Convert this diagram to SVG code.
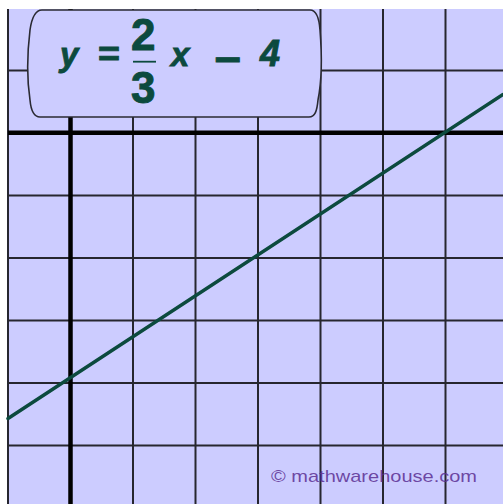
<svg xmlns="http://www.w3.org/2000/svg" width="503" height="504" viewBox="0 0 503 504">
  <style>
    .grid line { stroke: #26262f; stroke-width: 2; }
    .axis { stroke: #000; stroke-width: 4.5; }
    .graph { stroke: #0c4a3e; stroke-width: 3.5; fill: none; stroke-linecap: round; }
    .box { fill: #ccccff; stroke: #2a2a33; stroke-width: 1.6; }
    .eq { font-family: "Liberation Sans", Arial, sans-serif; font-weight: bold; fill: #0c4a3e; stroke: #0c4a3e; stroke-width: 0.9; }
    .it { font-style: italic; }
    .wm { font-family: "Liberation Sans", Arial, sans-serif; font-size: 17px; fill: #5b2f93; fill-opacity: 0.85; }
  </style>
  <rect x="0" y="0" width="503" height="504" fill="#ffffff"/>
  <rect x="8" y="9" width="495" height="495" fill="#ccccff"/>
  <g id="grid" class="grid">
    <line x1="8" y1="9" x2="8" y2="504"/>
    <line x1="133" y1="9" x2="133" y2="504"/>
    <line x1="195.5" y1="9" x2="195.5" y2="504"/>
    <line x1="258" y1="9" x2="258" y2="504"/>
    <line x1="320.5" y1="9" x2="320.5" y2="504"/>
    <line x1="383" y1="9" x2="383" y2="504"/>
    <line x1="445.5" y1="9" x2="445.5" y2="504"/>
    <line x1="8" y1="70.5" x2="503" y2="70.5"/>
    <line x1="8" y1="195.5" x2="503" y2="195.5"/>
    <line x1="8" y1="258" x2="503" y2="258"/>
    <line x1="8" y1="320.5" x2="503" y2="320.5"/>
    <line x1="8" y1="383" x2="503" y2="383"/>
    <line x1="8" y1="445.5" x2="503" y2="445.5"/>
  </g>
  <g id="axes">
    <line class="axis" x1="70.5" y1="9" x2="70.5" y2="504"/>
    <line class="axis" x1="8" y1="132.7" x2="503" y2="132.7"/>
  </g>
  <g id="connectors">
    <line class="graph" x1="8" y1="418.5" x2="503" y2="94.5"/>
  </g>
  <g id="equation-box">
    <path class="box" d="M 42 10 H 310 C 316 10, 319 16, 320 30 C 322 55, 322 80, 318 100 C 317 111, 315 117, 309 117 H 40 C 34 117, 31 111, 30 100 C 27 80, 27 55, 30 30 C 32 16, 36 10, 42 10 Z"/>
    <text class="eq it" x="60" y="66" font-size="33">y</text>
    <text class="eq" x="98" y="66" font-size="35" textLength="22" lengthAdjust="spacingAndGlyphs">=</text>
    <text class="eq" x="131" y="50" font-size="44">2</text>
    <line x1="133" y1="61.7" x2="156" y2="61.7" stroke="#0c4a3e" stroke-width="1.8"/>
    <text class="eq" x="131" y="103" font-size="44">3</text>
    <text class="eq it" x="171" y="66" font-size="33">x</text>
    <text class="eq" x="214" y="73" font-size="40" stroke-width="0" textLength="27" lengthAdjust="spacingAndGlyphs">−</text>
    <text class="eq it" x="260" y="66" font-size="36">4</text>
  </g>
  <g id="watermark">
    <text class="wm" x="271" y="482" textLength="206" lengthAdjust="spacingAndGlyphs">© mathwarehouse.com</text>
  </g>
</svg>
